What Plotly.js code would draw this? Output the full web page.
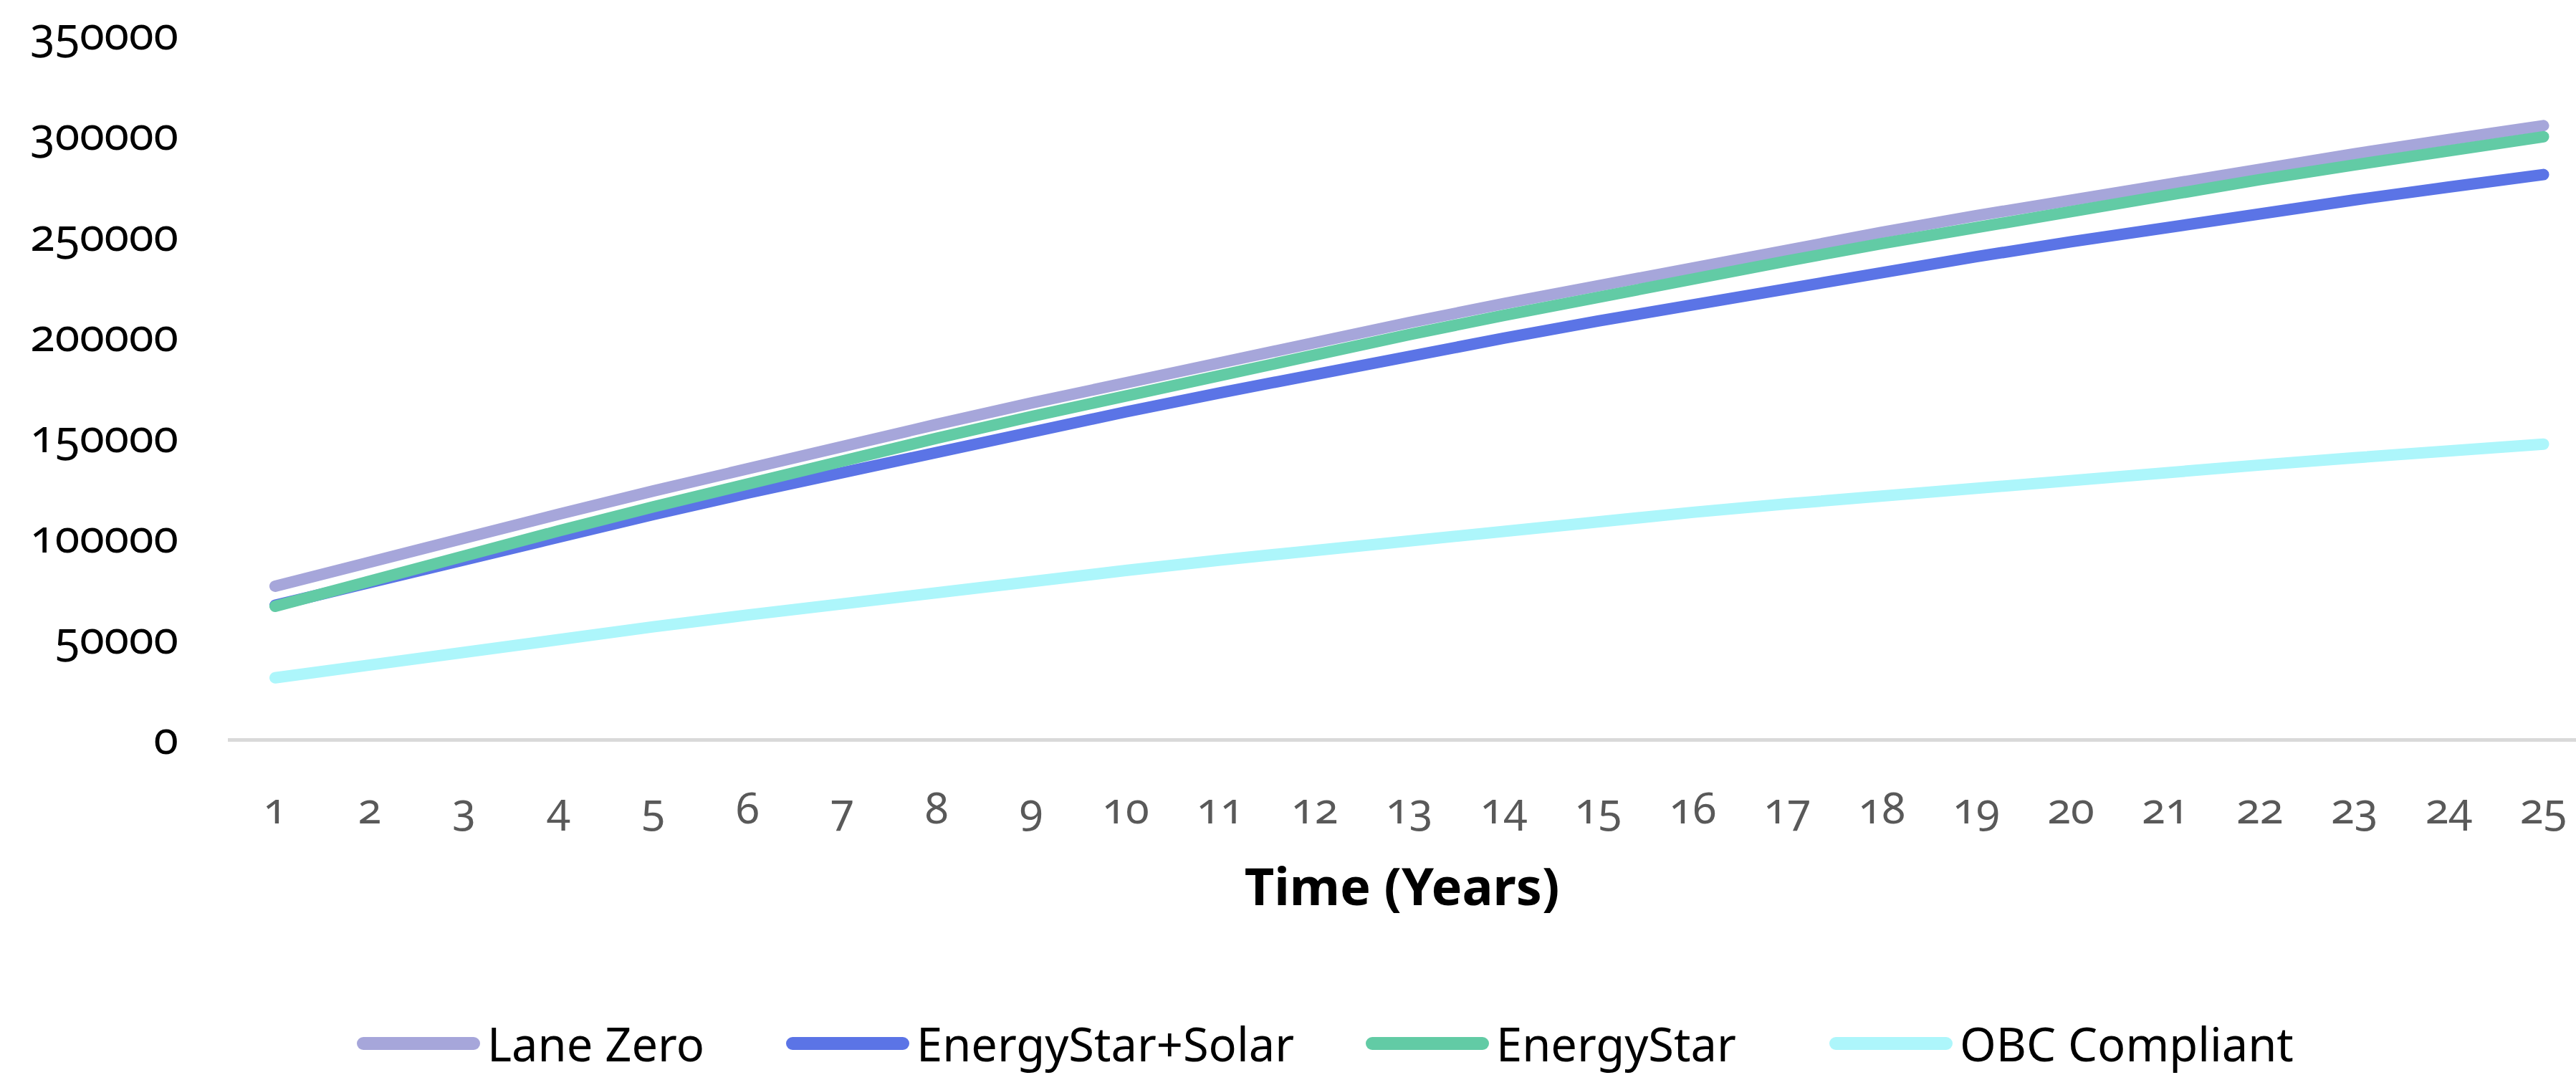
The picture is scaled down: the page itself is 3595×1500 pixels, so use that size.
<!DOCTYPE html>
<html>
<head>
<meta charset="utf-8">
<script src="https://cdn.plot.ly/plotly-3.0.1.min.js"></script>
<style>
  html, body { margin: 0; padding: 0; background: #ffffff; overflow: hidden; }
  #chart { width: 3595px; height: 1500px; }
  /* old-style figures on the axis numbers */
  #chart .xtick text, #chart .ytick text { font-feature-settings: "onum" 1; }
  /* rounded ends on the series lines and legend keys */
  #chart .scatterlayer .js-line, #chart .shapelayer path { stroke-linecap: round; }
</style>
</head>
<body>
<div id="chart"></div>
<script>
// Cumulative cost over time for four building options
const years = [1, 2, 3, 4, 5, 6, 7, 8, 9, 10, 11, 12, 13, 14, 15, 16, 17, 18, 19, 20, 21, 22, 23, 24, 25];
const yearLabels = ["1", "2", "3", "4", "5", "6", "7", "8", "9", "10", "11", "12", "13",
                    "14", "15", "16", "17", "18", "19", "20", "21", "22", "23", "24", "25"];
const costTicks = [0, 50000, 100000, 150000, 200000, 250000, 300000, 350000];
const costTickLabels = ["0", "50000", "100000", "150000", "200000", "250000", "300000", "350000"];

const seriesNames = ["Lane Zero", "EnergyStar+Solar", "EnergyStar", "OBC Compliant"];
const seriesColors = ["#A6A6DA", "#5B74E6", "#62CBA5", "#ADF6FB"];

const laneZero = [75500, 87700, 99600, 111300, 122800, 134100, 145100, 155900, 166500, 176800,
                  186900, 196800, 206500, 215900, 225100, 234100, 242800, 251300, 259600, 267600,
                  275400, 283000, 290300, 297400, 304300];
const energyStarSolar = [66000, 77600, 89000, 100200, 111100, 121800, 132200, 142400, 152400, 162100,
                         171600, 180900, 189900, 198700, 207300, 215600, 223700, 231600, 239200, 246600,
                         253800, 260700, 267400, 273800, 280000];
const energyStar = [65500, 78300, 90800, 103000, 114900, 126600, 137900, 149000, 159800, 170300,
                    180600, 190700, 200500, 210000, 219300, 228400, 237100, 245700, 254000, 262000,
                    269800, 277500, 284800, 291900, 298800];
const obcCompliant = [30000, 36600, 42900, 49200, 55300, 61200, 67000, 72600, 78000, 83300,
                      88500, 93500, 98400, 103200, 107800, 112200, 116400, 120500, 124500, 128300,
                      132100, 135700, 139300, 142700, 146100];

const seriesValues = [laneZero, energyStarSolar, energyStar, obcCompliant];

// page geometry (pixels)
const W = 3595, H = 1500;
const plotLeft = 318, plotTop = 47, plotBottom = 1030;
const plotWidth = W - plotLeft, plotHeight = plotBottom - plotTop;

const traces = seriesValues.map((vals, i) => ({
  type: 'scatter',
  mode: 'lines',
  x: years,
  y: vals,
  name: seriesNames[i],
  line: { color: seriesColors[i], width: 16 },
  cliponaxis: false,
  hoverinfo: 'skip',
  showlegend: false
}));

// legend row below the axis title: a key line and a label per series
const legendY = 1456;
const keyStarts = [498, 1097, 1906, 2553];
const keyLength = 172, keyCap = 9, keyGap = 9;
const toPaperX = px => (px - plotLeft) / plotWidth;
const toPaperY = py => (plotBottom - py) / plotHeight;

const shapes = [];
const annotations = [];
seriesNames.forEach((name, i) => {
  const x0 = keyStarts[i] + keyCap;
  const x1 = keyStarts[i] + keyLength - keyCap;
  shapes.push({
    type: 'line', xref: 'paper', yref: 'paper',
    x0: toPaperX(x0), x1: toPaperX(x1),
    y0: toPaperY(legendY), y1: toPaperY(legendY),
    line: { color: seriesColors[i], width: 18 }
  });
  annotations.push({
    xref: 'paper', yref: 'paper',
    x: toPaperX(keyStarts[i] + keyLength + keyGap),
    y: toPaperY(legendY),
    xanchor: 'left', yanchor: 'middle',
    borderpad: 0,
    text: name, showarrow: false,
    font: { family: 'Noto Sans', size: 65, color: '#000000' }
  });
});

const layout = {
  width: W,
  height: H,
  margin: { l: plotLeft, r: 0, t: plotTop, b: H - plotBottom, pad: 0 },
  paper_bgcolor: '#ffffff',
  plot_bgcolor: '#ffffff',
  showlegend: false,
  xaxis: {
    range: [0.5, 25.345],
    tickmode: 'array',
    tickvals: years,
    ticktext: yearLabels,
    showgrid: false,
    zeroline: false,
    showline: true,
    linecolor: '#D9D9D9',
    linewidth: 5,
    ticks: '',
    ticklabelstandoff: 42,
    ticklabeloverflow: 'allow',
    tickfont: { family: 'Noto Sans', size: 60, color: '#595959' },
    title: {
      text: 'Time (Years)',
      font: { family: 'Noto Sans', size: 72, color: '#000000', weight: 700 },
      standoff: 48
    }
  },
  yaxis: {
    range: [0, 350000],
    tickmode: 'array',
    tickvals: costTicks,
    ticktext: costTickLabels,
    showgrid: false,
    zeroline: false,
    showline: false,
    ticks: '',
    ticklabelstandoff: 68,
    ticklabeloverflow: 'allow',
    tickfont: { family: 'Noto Sans', size: 63, color: '#000000' }
  },
  shapes: shapes,
  annotations: annotations
};

Plotly.newPlot('chart', traces, layout, { displayModeBar: false, staticPlot: true });
</script>
</body>
</html>
